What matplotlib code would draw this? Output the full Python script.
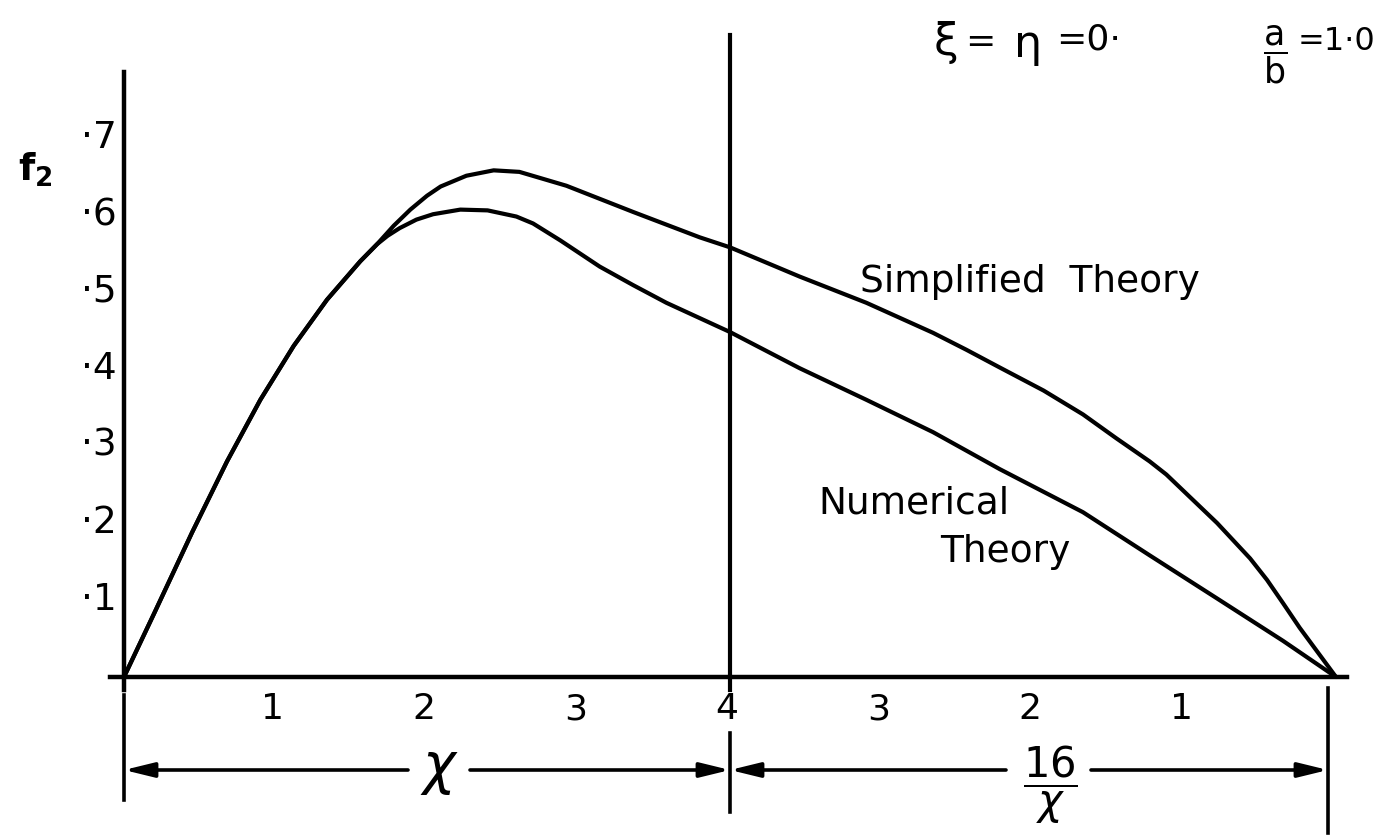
import numpy as np
import matplotlib
matplotlib.use("Agg")
import matplotlib.pyplot as plt

plt.rcParams["font.family"] = ["DejaVu Sans"]
plt.rcParams["mathtext.fontset"] = "dejavusans"

# left half: f2 against chi (0..4); both theories agree up to chi ~ 1.67
chi_shared = [0.0, 0.2, 0.45, 0.68, 0.9, 1.12, 1.34, 1.56, 1.67]
f2_shared = [0.0, 0.083, 0.188, 0.28, 0.36, 0.43, 0.49, 0.54, 0.562]

chi_simplified = [1.78, 1.89, 2.0, 2.09, 2.26, 2.44, 2.61, 2.92, 3.14, 3.36, 3.80, 4.0]
f2_simplified_left = [0.586, 0.607, 0.625, 0.637, 0.651, 0.658, 0.656, 0.638, 0.621, 0.604, 0.571, 0.558]

chi_numerical = [1.74, 1.82, 1.93, 2.04, 2.22, 2.40, 2.59, 2.70, 2.88, 3.14, 3.36, 3.58, 4.0]
f2_numerical_left = [0.573, 0.583, 0.594, 0.601, 0.607, 0.606, 0.598, 0.589, 0.567, 0.533, 0.509, 0.486, 0.448]

# right half: f2 against 16/chi (4..0)
inv_simplified = [4.0, 3.54, 3.10, 2.66, 2.44, 2.22, 1.93, 1.67, 1.45, 1.23, 1.12,
                  0.785, 0.567, 0.455, 0.35, 0.24, 0.0]
f2_simplified_right = [0.558, 0.520, 0.486, 0.447, 0.425, 0.402, 0.372, 0.341, 0.310,
                       0.280, 0.263, 0.200, 0.154, 0.126, 0.096, 0.064, 0.0]

inv_numerical = [4.0, 3.54, 3.10, 2.66, 2.22, 1.67, 1.23, 0.785, 0.35, 0.0]
f2_numerical_right = [0.448, 0.401, 0.360, 0.318, 0.270, 0.214, 0.158, 0.102, 0.047, 0.0]

y_ticks = [0.1, 0.2, 0.3, 0.4, 0.5, 0.6, 0.7]
x_tick_labels = ["1", "2", "3", "4", "3", "2", "1"]


def to_axis(chi_vals, inv_vals):
    # chi runs 0..4 on the left, 16/chi runs 4..0 on the right
    return np.concatenate([np.asarray(chi_vals), 8.0 - np.asarray(inv_vals)])


W, H = 1381, 835
X0, XS = 124, 151.5   # pixel of chi=0, pixels per unit
Y0, YS = 677, 770     # pixel of f2=0, pixels per unit

fig = plt.figure(figsize=(W / 100, H / 100), dpi=100)
fig.patch.set_facecolor("white")
ax = fig.add_axes([0, 0, 1, 1])
ax.set_xlim(-X0 / XS, (W - X0) / XS)
ax.set_ylim(-(H - Y0) / YS, Y0 / YS)
ax.axis("off")


def px(x):
    return (x - X0) / XS


def py(y):
    return (Y0 - y) / YS


kw = dict(color="black", lw=3.0, solid_capstyle="round", solid_joinstyle="round")

# curves
xs = to_axis(chi_shared + chi_simplified, inv_simplified)
ys = np.concatenate([f2_shared + f2_simplified_left, f2_simplified_right])
ax.plot(xs, ys, **kw)
xn = to_axis(chi_shared + chi_numerical, inv_numerical)
yn = np.concatenate([f2_shared + f2_numerical_left, f2_numerical_right])
ax.plot(xn, yn, **kw)

# axes
ax.plot([px(110), px(1347)], [0, 0], color="black", lw=3.2)
ax.plot([0, 0], [py(72), py(690)], color="black", lw=3.2)
ax.plot([4, 4], [py(35), py(690)], color="black", lw=3.0)

# y tick labels with raised decimal point
for v in y_ticks:
    ax.text(px(117), v, "·" + str(int(round(v * 10))), ha="right", va="center",
            fontsize=27)
ax.text(px(18), py(170), r"$\mathbf{f_2}$", ha="left", va="center", fontsize=27)

# x tick labels
for i, lab in enumerate(x_tick_labels, start=1):
    ax.text(i - 0.02, py(709), lab, ha="center", va="center", fontsize=26)

# dimension lines under the axis
yd = py(770)
ax.plot([0, 0], [py(695), py(800)], color="black", lw=2.6)
ax.plot([4, 4], [py(733), py(812)], color="black", lw=2.6)
xr = px(1328)
ax.plot([xr, xr], [py(688), py(833)], color="black", lw=2.6)

arrow = dict(arrowstyle="-|>,head_length=0.9,head_width=0.22", color="black",
             lw=2.6, mutation_scale=20, shrinkA=0, shrinkB=0)
ax.annotate("", xy=(0, yd), xytext=(px(408), yd), arrowprops=arrow)
ax.annotate("", xy=(4, yd), xytext=(px(470), yd), arrowprops=arrow)
ax.annotate("", xy=(4, yd), xytext=(px(1006), yd), arrowprops=arrow)
ax.annotate("", xy=(xr, yd), xytext=(px(1091), yd), arrowprops=arrow)
ax.text(px(440), yd, r"$\chi$", ha="center", va="center", fontsize=40)
ax.text(px(1050), py(785), r"$\dfrac{16}{\chi}$", ha="center", va="center",
        fontsize=30)

# curve labels
ax.text(px(860), py(282), "Simplified  Theory", ha="left", va="center", fontsize=27)
ax.text(px(818), py(503), "Numerical", ha="left", va="center", fontsize=27)
ax.text(px(940), py(552), "Theory", ha="left", va="center", fontsize=27)

# parameters
ax.text(px(946), py(42), "ξ", ha="center", va="center", fontsize=32)
ax.text(px(980), py(42), "=", ha="center", va="center", fontsize=26)
ax.text(px(1028), py(44), "η", ha="center", va="center", fontsize=32)
ax.text(px(1056), py(40), "=0·", ha="left", va="center", fontsize=26)
ax.text(px(1275), py(55), r"$\dfrac{\mathrm{a}}{\mathrm{b}}$", ha="center",
        va="center", fontsize=25)
ax.text(px(1298), py(42), "=1·0", ha="left", va="center", fontsize=23)

fig.savefig("out.png", dpi=100, facecolor="white")
plt.close(fig)
